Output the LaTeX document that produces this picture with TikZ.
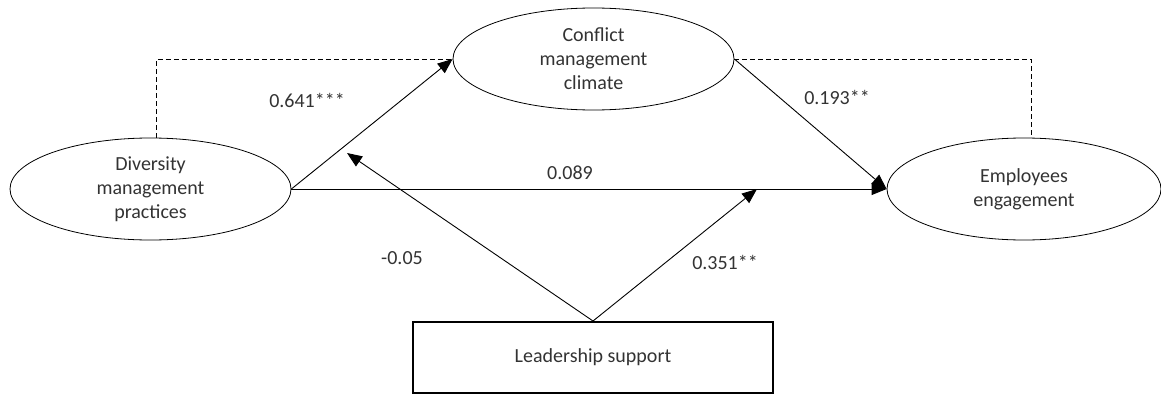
\documentclass[tikz,border=0pt]{standalone}
\usepackage{fontspec}
\setmainfont{Carlito}
\usetikzlibrary{shapes.geometric,arrows.meta,calc}
\begin{document}
\begin{tikzpicture}[x=1pt,y=-1pt,
  every node/.style={font=\fontsize{20}{24}\selectfont, text=black!80},
  latent/.style={draw, ellipse, line width=0.8pt, minimum width=281pt, minimum height=102pt, inner sep=0pt, align=center},
  modbox/.style={draw, rectangle, line width=2pt, minimum width=360pt, minimum height=71pt, inner sep=0pt},
  path/.style={line width=0.9pt, -{Triangle[length=15pt,width=12pt]}},
  cov/.style={line width=0.9pt, dash pattern=on 5pt off 3pt},
  lbl/.style={inner sep=0pt}]
\useasboundingbox (0,0) rectangle (1161,396);
\node[latent] (D) at (150.5,189) {Diversity\\management\\practices};
\node[latent] (C) at (593.5,59) {Conflict\\management\\climate};
\node[latent, minimum width=274pt] (E) at (1024,189) {Employees\\engagement};
\node[modbox] (L) at (593,357.5) {Leadership support};
\coordinate (tL) at (347,153);
\coordinate (tR) at (757,189);
\draw[cov] ([xshift=6pt]D.north) |- (C.west);
\draw[cov] (C.east) -| ([xshift=7pt]E.north);
\draw[path] (D.east) -- (C.west);
\draw[path] (D.east) -- (E.west);
\draw[path] (C.east) -- (E.west);
\draw[path] (L.north) -- (tL);
\draw[path] (L.north) -- (tR);
\node[lbl] (l1) at (307,100) {0.641***};
\node[lbl] (l2) at (570,173) {0.089};
\node[lbl] (l3) at (837,97) {0.193**};
\node[lbl] (l4) at (402,258) {-0.05};
\node[lbl] (l5) at (725,262) {0.351**};
\end{tikzpicture}
\end{document}
